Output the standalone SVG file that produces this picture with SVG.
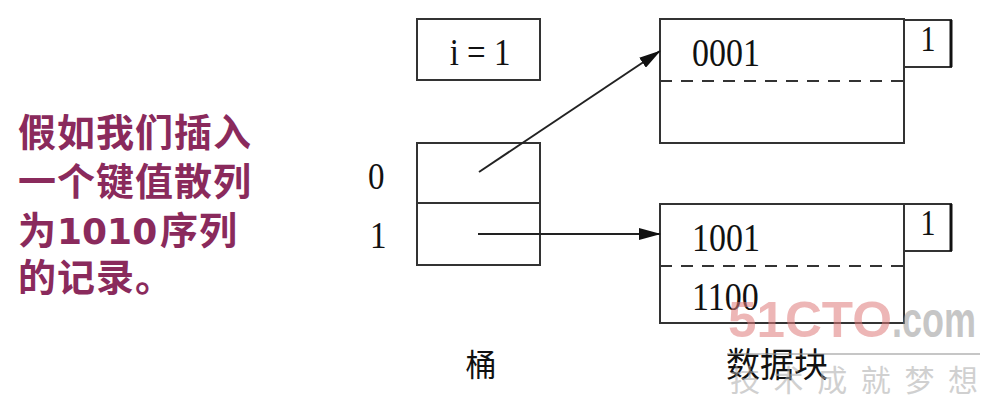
<svg xmlns="http://www.w3.org/2000/svg" width="994" height="413" viewBox="0 0 994 413">
<defs>
<style>
.box{fill:none;stroke:#333;stroke-width:2}
.dash{stroke:#333;stroke-width:2;stroke-dasharray:12,9}
.serif{font-family:"Liberation Serif","DejaVu Serif",serif;fill:#111}
.cjk{font-family:"Noto Sans CJK SC",sans-serif;fill:#111}
.title{font-family:"DejaVu Sans","Noto Sans CJK SC",sans-serif;font-weight:bold;fill:#8a2a5c;font-size:38px}
.conn{stroke:#222;stroke-width:2;fill:none}
.wm{font-family:"Liberation Sans",sans-serif;font-weight:bold;font-size:50px}
.wmc{font-family:"Noto Sans CJK SC",sans-serif;font-size:30px;fill:#aaa}
</style>
<marker id="arr" markerWidth="22" markerHeight="12" refX="21" refY="6" orient="auto" markerUnits="userSpaceOnUse">
<path d="M0,0 L22,6 L0,12 Z" fill="#111"/>
</marker>
</defs>
<rect width="994" height="413" fill="#fff"/>

<g id="caption">
<text class="title" x="18" y="146" letter-spacing="1">假如我们插入</text>
<text class="title" x="18" y="195" letter-spacing="1">一个键值散列</text>
<text class="title" y="244"><tspan x="18">为</tspan><tspan x="57" font-size="36">1010</tspan><tspan x="160" letter-spacing="1">序列</tspan></text>
<text class="title" x="18" y="291" letter-spacing="1">的记录。</text>
</g>

<g id="depth">
<rect class="box" x="417" y="19" width="123" height="61"/>
<text class="serif" transform="translate(480,65) scale(1,1.18)" font-size="33" text-anchor="middle">i = 1</text>
</g>

<g id="bucket">
<rect class="box" x="417" y="143" width="123" height="122" stroke="#444"/>
<line x1="417" y1="203" x2="540" y2="203" stroke="#333" stroke-width="2"/>
<text class="serif" transform="translate(368,189) scale(1,1.18)" font-size="33">0</text>
<text class="serif" transform="translate(370,248) scale(1,1.18)" font-size="33">1</text>
<text class="cjk" x="481" y="376" font-size="31" text-anchor="middle">桶</text>
</g>

<g id="block0">
<rect class="box" x="660" y="19" width="244" height="124"/>
<line class="dash" x1="660" y1="81" x2="904" y2="81"/>
<text class="serif" transform="translate(692,66) scale(1,1.18)" font-size="34">0001</text>
<rect class="box" x="904" y="20" width="47" height="47"/>
<line x1="951" y1="20" x2="951" y2="67" stroke="#111" stroke-width="3"/>
<text class="serif" transform="translate(928,51) scale(1,1.18)" font-size="30" text-anchor="middle">1</text>
</g>

<g id="block1">
<rect class="box" x="660" y="204" width="244" height="119"/>
<line class="dash" x1="660" y1="266" x2="904" y2="266"/>
<text class="serif" transform="translate(692,251) scale(1,1.18)" font-size="34">1001</text>
<text class="serif" transform="translate(692,310) scale(1,1.18)" font-size="34">1100</text>
<rect class="box" x="904" y="204" width="47" height="47"/>
<line x1="951" y1="204" x2="951" y2="251" stroke="#111" stroke-width="3"/>
<text class="serif" transform="translate(928,235) scale(1,1.18)" font-size="30" text-anchor="middle">1</text>
<text class="cjk" x="726" y="377" font-size="34">数据块</text>
</g>

<g id="connectors">
<line class="conn" x1="479" y1="172" x2="660" y2="51" marker-end="url(#arr)"/>
<line class="conn" x1="478" y1="234" x2="660" y2="234" marker-end="url(#arr)"/>
</g>

<g id="watermark" opacity="0.55">
<text class="wm" x="728" y="337" textLength="164" lengthAdjust="spacingAndGlyphs" fill="#e07b7b">51CTO</text>
<text class="wm" x="892" y="337" textLength="84" lengthAdjust="spacingAndGlyphs" fill="#999">.com</text>
<line x1="727" y1="354" x2="980" y2="354" stroke="#999" stroke-width="2"/>
<text class="wmc" x="730" y="391" textLength="248">技术成就梦想</text>
</g>
</svg>
